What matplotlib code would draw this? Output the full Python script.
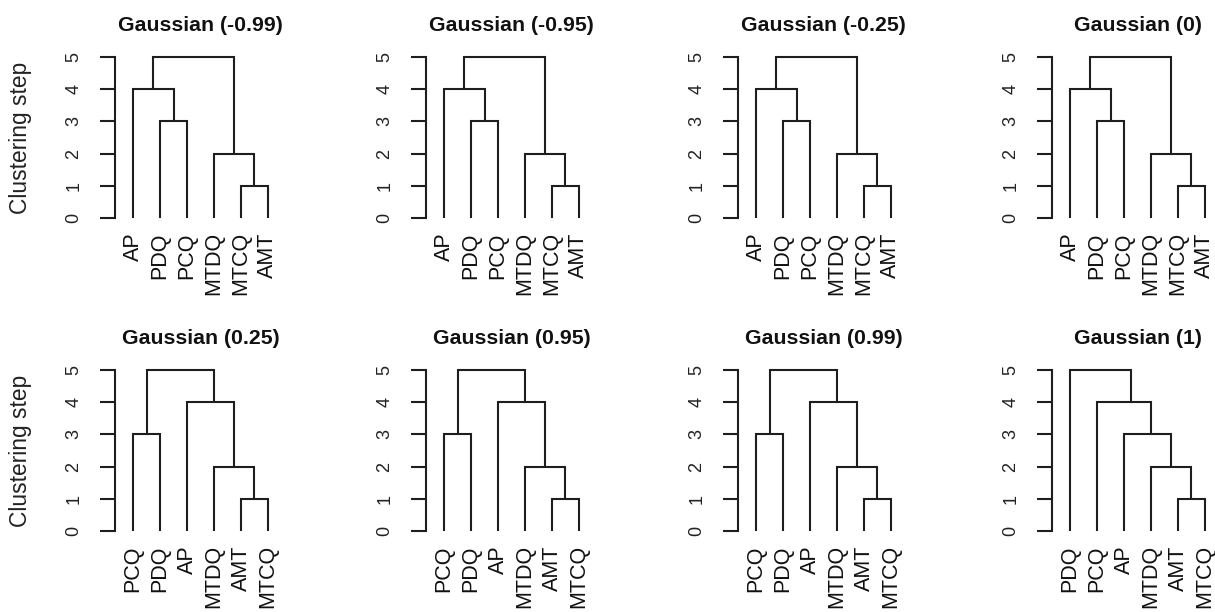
import numpy as np
import matplotlib
matplotlib.use("Agg")
from matplotlib import pyplot as plt

plt.rcParams['font.family'] = ['Liberation Sans', 'DejaVu Sans']

titles = ["Gaussian (-0.99)", "Gaussian (-0.95)", "Gaussian (-0.25)", "Gaussian (0)",
          "Gaussian (0.25)", "Gaussian (0.95)", "Gaussian (0.99)", "Gaussian (1)"]

# leaf order along the x axis of each dendrogram
order_neg = ["AP", "PDQ", "PCQ", "MTDQ", "MTCQ", "AMT"]
order_pos = ["PCQ", "PDQ", "AP", "MTDQ", "AMT", "MTCQ"]
order_one = ["PDQ", "PCQ", "AP", "MTDQ", "AMT", "MTCQ"]

# merges, R style: a string is a leaf, an int n is the cluster made at step n
merge_neg = [("MTCQ", "AMT"), ("MTDQ", 1), ("PDQ", "PCQ"), ("AP", 3), (4, 2)]
merge_pos = [("AMT", "MTCQ"), ("MTDQ", 1), ("PCQ", "PDQ"), ("AP", 2), (3, 4)]
merge_one = [("AMT", "MTCQ"), ("MTDQ", 1), ("AP", 2), ("PCQ", 3), ("PDQ", 4)]

steps = [1, 2, 3, 4, 5]

orders = [order_neg] * 4 + [order_pos] * 3 + [order_one]
merges = [merge_neg] * 4 + [merge_pos] * 3 + [merge_one]

line_col = '#1e1e1e'


def draw_tree(ax, leaves, merge, heights):
    pos = {name: i for i, name in enumerate(leaves)}
    nodes = []

    def get(ref):
        if isinstance(ref, str):
            return pos[ref], 0.0, [pos[ref]]
        return nodes[ref - 1]

    for (a, b), h in zip(merge, heights):
        xa, ya, ma = get(a)
        xb, yb, mb = get(b)
        ax.plot([xa, xa, xb, xb], [ya, h, h, yb], color=line_col, lw=1.5,
                solid_joinstyle='miter', solid_capstyle='butt')
        x = (np.mean(ma) + np.mean(mb)) / 2
        nodes.append((x, h, ma + mb))


fig = plt.figure(figsize=(12.15, 6.12), dpi=100)

lefts = [115, 426, 738, 1052]
tops = [50.6, 363.6]
W, H = 171, 174

for k in range(8):
    r, c = divmod(k, 4)
    ax = fig.add_axes([lefts[c] / 1215, 1 - (tops[r] + H) / 612, W / 1215, H / 612])
    draw_tree(ax, orders[k], merges[k], steps)
    ax.set_xlim(-0.67, 5.67)
    ax.set_ylim(-0.2, 5.2)
    for s in ['top', 'right', 'bottom']:
        ax.spines[s].set_visible(False)
    ax.spines['left'].set_bounds(0, 5)
    ax.spines['left'].set_color(line_col)
    ax.spines['left'].set_linewidth(1.5)

    ax.set_yticks(range(6))
    ax.set_yticklabels([str(i) for i in range(6)], rotation=90, va='center', fontsize=13)
    ax.tick_params(axis='y', length=11, width=1.5, color=line_col, pad=12.5, labelcolor='#222222')

    ax.set_xticks(range(6))
    ax.set_xticklabels(orders[k], rotation=90, fontsize=15.5)
    ax.tick_params(axis='x', length=0, pad=5.5, labelcolor='#111111')

    ax.set_title(titles[k], fontsize=15.3, fontweight='bold', pad=14, color='#111111')

    if c == 0:
        ax.set_ylabel("Clustering step", fontsize=16.4, color='#222222')
        ax.yaxis.set_label_coords(-0.485, 0.5)

fig.savefig("out.png", dpi=100)
